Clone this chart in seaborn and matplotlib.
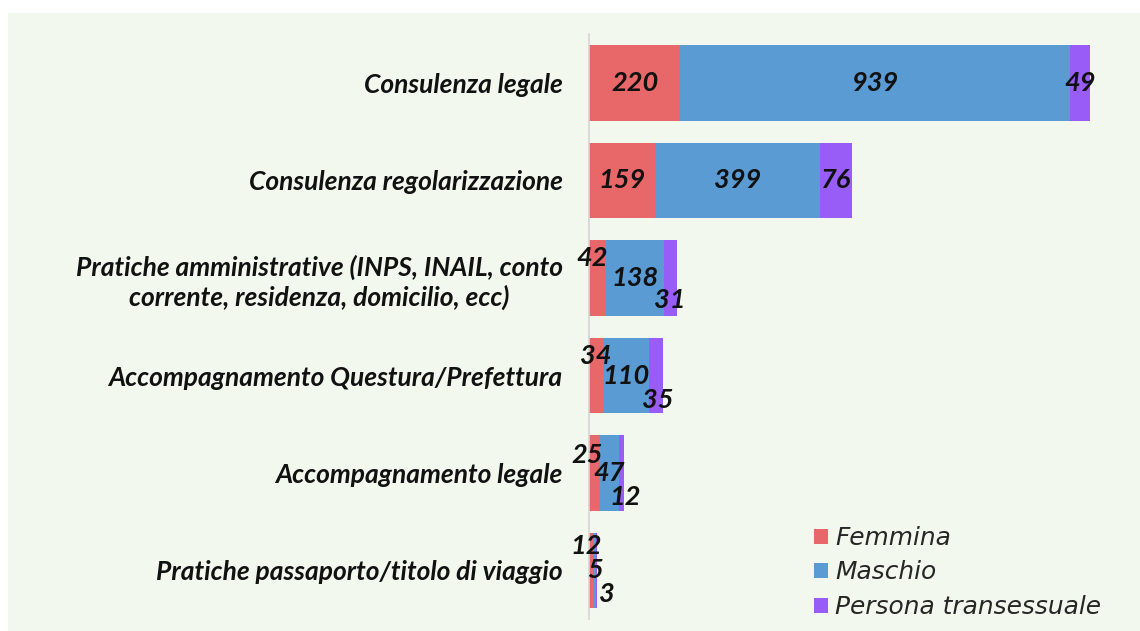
import matplotlib
matplotlib.use("Agg")
import matplotlib.pyplot as plt
import seaborn as sns
import pandas as pd
from matplotlib.patches import Patch, Rectangle

categories = [
    "Consulenza legale",
    "Consulenza regolarizzazione",
    "Pratiche amministrative (INPS, INAIL, conto\ncorrente, residenza, domicilio, ecc)",
    "Accompagnamento Questura/Prefettura",
    "Accompagnamento legale",
    "Pratiche passaporto/titolo di viaggio",
]
series_names = ["Femmina", "Maschio", "Persona transessuale"]
femmina = [220, 159, 42, 34, 25, 12]
maschio = [939, 399, 138, 110, 47, 5]
trans = [49, 76, 31, 35, 12, 3]

colors = ["#E8686A", "#5B9BD3", "#985CF7"]
# offsets (pixels) of value labels per row: (Femmina, Maschio, Trans)
label_dy = [(0, 0, 0), (0, 0, 0), (20, 0, -22), (20, 0, -25), (18, 0, -24), (25, 0, -24)]
label_dx = [(0, 0, 0), (0, 0, 0), (-6, 0, 0), (0, 0, 2), (-7, 0, 4), (-5, 0, 10)]

sns.set_theme(style="white")
plt.rcParams["font.family"] = ["Lato", "DejaVu Sans"]

df = pd.DataFrame({"cat": categories, "f": femmina, "m": maschio, "t": trans})
df["fm"] = df["f"] + df["m"]
df["fmt"] = df["fm"] + df["t"]

fig = plt.figure(figsize=(11.4, 6.31), dpi=100)
fig.patch.set_facecolor("white")
fig.patches.append(Rectangle((8 / 1140, 0), 1 - 8 / 1140, (631 - 13) / 631,
                             transform=fig.transFigure, facecolor="#F3F8EE",
                             edgecolor="none", zorder=-10))
ax = fig.add_axes([589 / 1140, (631 - 619.25) / 631, 536 / 1140, 585 / 631])
ax.set_facecolor("none")

sns.barplot(data=df, y="cat", x="fmt", color=colors[2], orient="h", ax=ax,
            width=0.77, saturation=1, edgecolor="none")
sns.barplot(data=df, y="cat", x="fm", color=colors[1], orient="h", ax=ax,
            width=0.77, saturation=1, edgecolor="none")
sns.barplot(data=df, y="cat", x="f", color=colors[0], orient="h", ax=ax,
            width=0.77, saturation=1, edgecolor="none")

ax.set_xlim(0, 1292)
ax.set_ylim(5.5, -0.5)
ax.set_xlabel("")
ax.set_ylabel("")
ax.set_xticks([])
for s in ["top", "right", "bottom"]:
    ax.spines[s].set_visible(False)
ax.spines["left"].set_color("#D5D5D5")
ax.spines["left"].set_linewidth(1.2)
ax.tick_params(axis="y", length=0, pad=19)
for lab in ax.get_yticklabels():
    lab.set_fontsize(19)
    lab.set_fontweight("bold")
    lab.set_fontstyle("italic")
    lab.set_multialignment("center")
    lab.set_linespacing(1.2)
    lab.set_color("#111111")

for i in range(len(categories)):
    starts = [0, femmina[i], femmina[i] + maschio[i]]
    vals = [femmina[i], maschio[i], trans[i]]
    for j in range(3):
        xc = starts[j] + vals[j] / 2
        ax.annotate(str(vals[j]), (xc, i), xytext=(label_dx[i][j], label_dy[i][j]),
                    textcoords="offset pixels", ha="center", va="center",
                    fontsize=19.5, fontweight="bold", fontstyle="italic",
                    color="#111111")

handles = [Patch(facecolor=c, edgecolor="none") for c in colors]
fig.legend(handles, series_names, loc="upper left",
           bbox_to_anchor=(814 / 1140, (631 - 526) / 631), frameon=False,
           prop={"family": "DejaVu Sans", "style": "italic", "size": 17.9},
           handlelength=0.55, handleheight=0.55, handletextpad=0.3,
           labelspacing=0.42, borderpad=0, borderaxespad=0)

fig.savefig("out.png", dpi=100, facecolor="white")
